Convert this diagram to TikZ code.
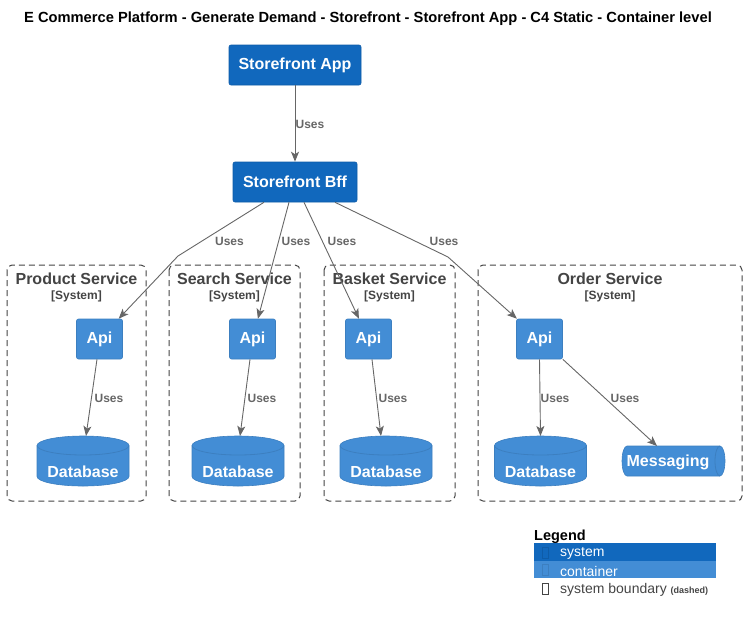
\documentclass[tikz,border=0pt]{standalone}
\usepackage{fontspec}
\setmainfont{Liberation Sans}
\usetikzlibrary{arrows.meta,calc}

\definecolor{syscol}{HTML}{1168BD}
\definecolor{syslin}{HTML}{0E5CA8}
\definecolor{contcol}{HTML}{438DD5}
\definecolor{contlin}{HTML}{3C7FC0}
\definecolor{relcol}{HTML}{666666}
\definecolor{bndcol}{HTML}{444444}

% database cylinder: name, x, y of centre
\newcommand{\database}[3]{%
  \coordinate (#1) at (#2,#3);
  \coordinate (#1-top) at ($(#1)+(0,25)$);
  \filldraw[dbshape] ($(#1)+(-46,15.5)$) -- ($(#1)+(-46,-15.5)$)
    arc[start angle=180,end angle=360,x radius=46pt,y radius=9.5pt]
    -- ($(#1)+(46,15.5)$)
    arc[start angle=0,end angle=180,x radius=46pt,y radius=9.5pt] -- cycle;
  \draw[dbrim] ($(#1)+(-46,15.5)$) arc[start angle=180,end angle=360,x radius=46pt,y radius=9.5pt];
  \node[dbtext] (#1-t) at ($(#1)+(0,-11)$) {Database};
}

\begin{document}
\begin{tikzpicture}[
x=1pt, y=1pt,
sys/.style={fill=syscol, draw=syslin, line width=.6pt, rounded corners=2pt, text=white, font=\bfseries\fontsize{16}{18}\selectfont},
cont/.style={fill=contcol, draw=contlin, line width=.6pt, rounded corners=2pt, text=white, minimum width=46pt, minimum height=40pt, inner sep=0pt, font=\bfseries\fontsize{16}{18}\selectfont},
dbshape/.style={fill=contcol, draw=contlin, line width=.6pt},
dbrim/.style={draw=contlin, line width=.8pt},
dbtext/.style={text=white, font=\bfseries\fontsize{16}{18}\selectfont},
bnd/.style={draw=bndcol, line width=1pt, dash pattern=on 6pt off 4pt, rounded corners=5pt},
bndtitle/.style={text=bndcol, font=\bfseries\fontsize{16}{18}\selectfont},
bndsys/.style={text=bndcol, font=\bfseries\fontsize{12}{14}\selectfont},
rel/.style={draw=relcol, line width=.9pt, -{Stealth[length=10pt,width=8pt,inset=2.5pt]}},
uses/.style={text=relcol, font=\bfseries\fontsize{12}{14}\selectfont, inner sep=0pt},
lgdtext/.style={anchor=west, inner sep=0pt, font=\fontsize{14}{16}\selectfont}
]

\useasboundingbox (0,0) rectangle (746,-622);

%% Title
\node[font=\bfseries\fontsize{14.7}{17}\selectfont] (title) at (368,-19)
  {E Commerce Platform - Generate Demand - Storefront - Storefront App - C4 Static - Container level};

%% Systems
\node[sys, minimum width=132pt, minimum height=40pt] (app) at (295,-65) {Storefront App};
\node[sys, minimum width=124pt, minimum height=40pt] (bff) at (295,-182) {Storefront Bff};

%% Boundaries
\draw[bnd] (7,-265) rectangle (146,-501);
\draw[bnd] (169,-265) rectangle (300,-501);
\draw[bnd] (324,-265) rectangle (455,-501);
\draw[bnd] (478,-265) rectangle (742,-501);

\node[bndtitle] (pst) at (76.5,-279) {Product Service};
\node[bndsys] (pss) at (76.5,-296) {[System]};
\node[bndtitle] (sst) at (234.5,-279) {Search Service};
\node[bndsys] (sss) at (234.5,-296) {[System]};
\node[bndtitle] (bst) at (389.5,-279) {Basket Service};
\node[bndsys] (bss) at (389.5,-296) {[System]};
\node[bndtitle] (ost) at (610,-279) {Order Service};
\node[bndsys] (oss) at (610,-296) {[System]};

%% Containers
\node[cont] (papi) at (99.5,-339) {Api};
\node[cont] (sapi) at (252.5,-339) {Api};
\node[cont] (bapi) at (368.5,-339) {Api};
\node[cont] (oapi) at (539.5,-339) {Api};

\database{pdb}{83}{-461}
\database{sdb}{238}{-461}
\database{bdb}{386}{-461}
\database{odb}{540.5}{-461}

% messaging queue
\coordinate (omsg) at (673.5,-461);
\filldraw[dbshape] ($(omsg)+(-46.5,15)$) -- ($(omsg)+(46.5,15)$)
  arc[start angle=90,end angle=-90,x radius=5pt,y radius=15pt]
  -- ($(omsg)+(-46.5,-15)$)
  arc[start angle=270,end angle=90,x radius=5pt,y radius=15pt] -- cycle;
\draw[dbrim] ($(omsg)+(46.5,15)$) arc[start angle=90,end angle=270,x radius=5pt,y radius=15pt];
\node[dbtext] (omsg-t) at (668,-462) {Messaging};

%% Relations
\draw[rel] (app) -- (bff);
\node[uses] (u1) at (310,-124.5) {Uses};

\draw[rel] ([xshift=-31pt]bff.south) -- (178,-256) -- (papi);
\node[uses] (u2) at (229.5,-241.5) {Uses};
\draw[rel] ([xshift=-6pt]bff.south) -- (sapi);
\node[uses] (u3) at (296,-241.5) {Uses};
\draw[rel] ([xshift=9pt]bff.south) -- (bapi);
\node[uses] (u4) at (342,-241.5) {Uses};
\draw[rel] ([xshift=40pt]bff.south) -- (448,-257) -- (oapi);
\node[uses] (u5) at (444,-241.5) {Uses};

\draw[rel] ([xshift=-2.5pt]papi.south) -- ([xshift=3pt]pdb-top);
\node[uses] (u6) at (109,-398.5) {Uses};
\draw[rel] ([xshift=-2.5pt]sapi.south) -- ([xshift=2pt]sdb-top);
\node[uses] (u7) at (262,-398.5) {Uses};
\draw[rel] ([xshift=3.5pt]bapi.south) -- ([xshift=-5pt]bdb-top);
\node[uses] (u8) at (393,-398.5) {Uses};
\draw[rel] (oapi.south) -- (odb-top);
\node[uses] (u9) at (555,-398.5) {Uses};
\draw[rel] (oapi.south east) -- ($(omsg)+(-16.5,15)$);
\node[uses] (u10) at (625,-398.5) {Uses};

%% Legend
\node[anchor=west, inner sep=0pt, font=\bfseries\fontsize{14.5}{16}\selectfont] (lgd) at (534,-536.5) {Legend};
\fill[syscol] (534,-543) rectangle (716,-560.5);
\fill[contcol] (534,-560.5) rectangle (716,-578);
\draw[syslin, line width=.6pt] (542,-547) rectangle (548,-558);
\draw[contlin, line width=.6pt] (542,-564) rectangle (548,-575);
\draw[bndcol, line width=.6pt] (542,-583) rectangle (548,-594);
\node[lgdtext, text=white] (lsys) at (560,-553.5) {system};
\node[lgdtext, text=white] (lcont) at (560,-571) {container};
\node[lgdtext, text=bndcol] (lbnd) at (560,-590) {system boundary {\bfseries\fontsize{9}{10}\selectfont(dashed)}};

\end{tikzpicture}
\end{document}
